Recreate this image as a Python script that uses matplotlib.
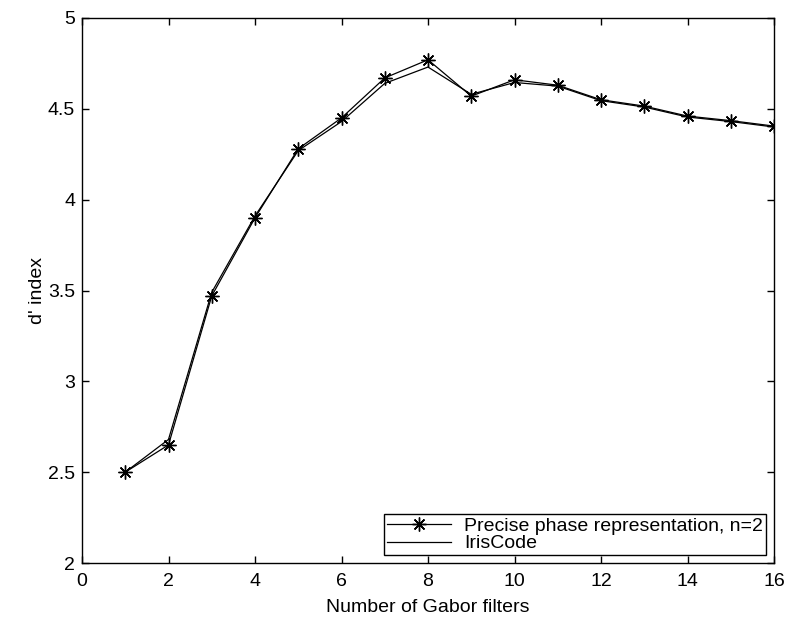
import numpy as np
import matplotlib
matplotlib.use("Agg")
import matplotlib.pyplot as plt

plt.rcParams['font.family'] = ['Liberation Sans', 'DejaVu Sans']

# number of Gabor filters
n_filters = [1, 2, 3, 4, 5, 6, 7, 8, 9, 10, 11, 12, 13, 14, 15, 16]

# d' index values
precise_phase = [2.50, 2.65, 3.47, 3.90, 4.28, 4.45, 4.67, 4.77, 4.57, 4.66,
                 4.63, 4.55, 4.515, 4.46, 4.435, 4.405]
iriscode = [2.50, 2.68, 3.49, 3.91, 4.27, 4.43, 4.64, 4.73, 4.58, 4.645,
            4.625, 4.545, 4.51, 4.455, 4.43, 4.40]

fig = plt.figure(figsize=(7.86, 6.22), dpi=100)
ax = fig.add_axes([82 / 786, 59 / 622, 692 / 786, 545 / 622])

# matlab style asterisk marker
ax.plot(n_filters, precise_phase, color='black', linewidth=0.9, marker=(8, 2, 0),
        markersize=10, markeredgewidth=1.0, label='Precise phase representation, n=2')
ax.plot(n_filters, iriscode, color='black', linewidth=0.9, label='IrisCode')

ax.set_xlim(0, 16)
ax.set_ylim(2, 5)
ax.set_xticks(np.arange(0, 17, 2))
ax.set_yticks([2, 2.5, 3, 3.5, 4, 4.5, 5])
ax.set_yticklabels(['2', '2.5', '3', '3.5', '4', '4.5', '5'])

ax.tick_params(direction='in', length=5, width=1, top=True, right=True, labelsize=14)
ax.tick_params(axis='x', pad=7.5)
ax.tick_params(axis='y', pad=5)
for s in ax.spines.values():
    s.set_linewidth(1.0)

ax.set_xlabel('Number of Gabor filters', fontsize=14, labelpad=6)
ax.set_ylabel("d' index", fontsize=14, labelpad=1)

leg = ax.legend(loc='lower right', fontsize=14, frameon=True, fancybox=False,
                edgecolor='black', framealpha=1, borderaxespad=0.4,
                handlelength=3.3, handletextpad=0.7, borderpad=0.15,
                labelspacing=0.0)
leg.get_frame().set_linewidth(1.0)

fig.savefig('out.png', dpi=100)
